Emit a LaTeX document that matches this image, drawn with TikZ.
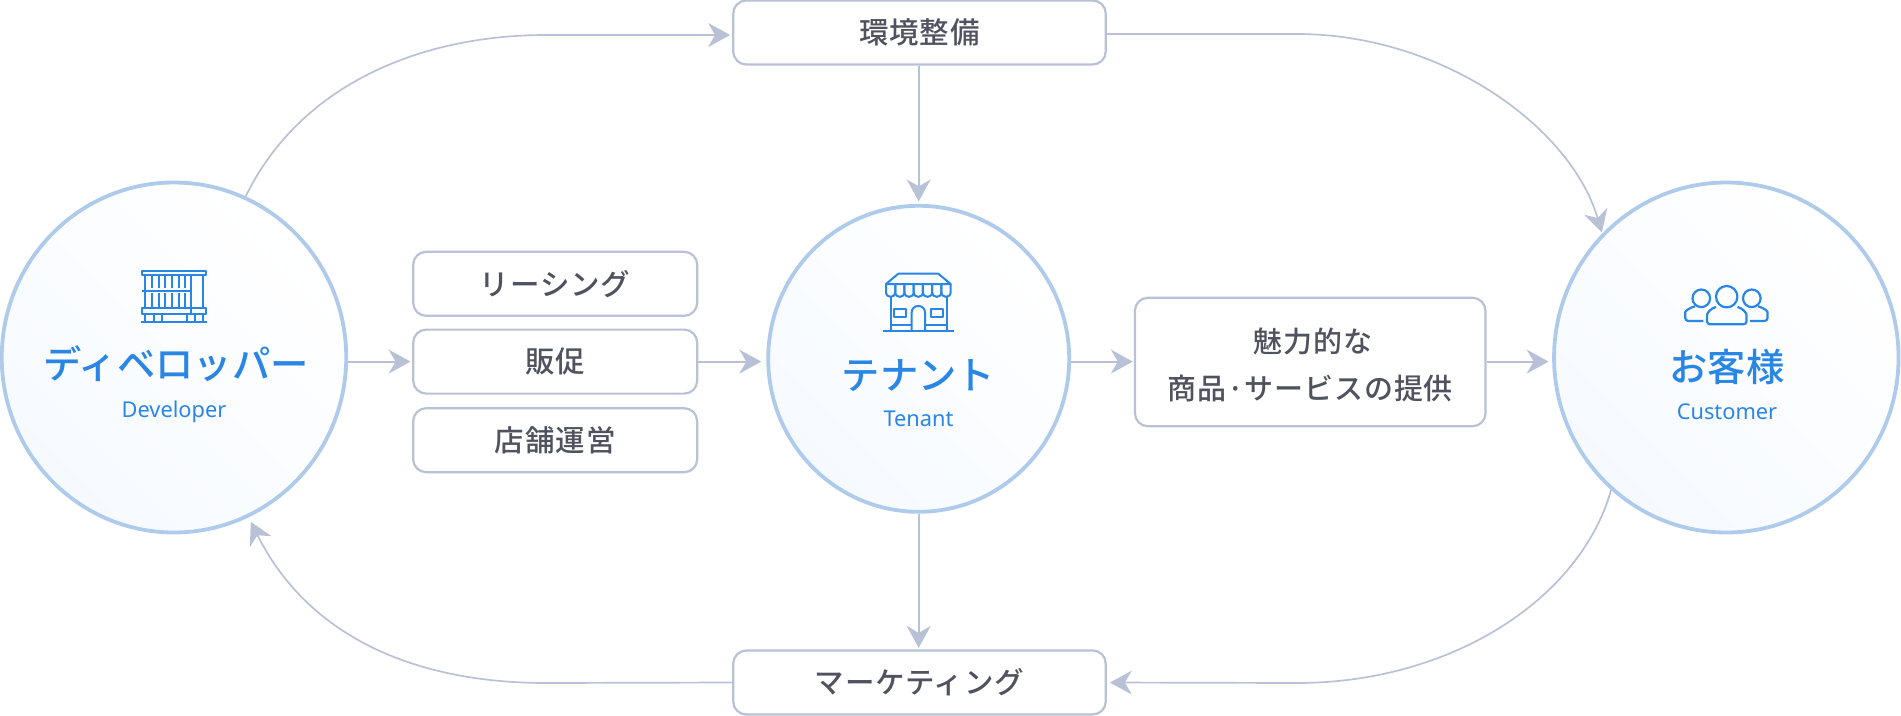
\documentclass[tikz,border=0pt]{standalone}
\usepackage{fontspec}
\usetikzlibrary{arrows.meta,calc,shapes.geometric}
\setmainfont{Noto Sans}
\newfontfamily\cjk{Noto Sans CJK JP Medium}
\newfontfamily\cjkt[LetterSpace=3]{Noto Sans CJK JP Medium}
\definecolor{cblue}{HTML}{2A86E5}
\definecolor{cring}{HTML}{AECBEC}
\definecolor{cline}{HTML}{B9C1D6}
\definecolor{ctext}{HTML}{50525F}
\definecolor{cfill}{HTML}{F6FAFF}
\newcommand{\bt}[1]{\raisebox{-1.5pt}{#1}}
\tikzset{
  party/.style 2 args={ellipse,draw=cring,line width=3.8pt,inner sep=0pt,minimum width=#1,minimum height=#2,
    top color=white,bottom color=cfill,shading angle=-45},
  box/.style={draw=cline,line width=2.2pt,rounded corners=13pt,fill=white,inner sep=0pt,
    text=ctext,font=\cjkt\fontsize{29.5}{46.5}\selectfont,align=center},
  boxtext/.style={inner sep=0pt,text=ctext,font=\cjkt\fontsize{29}{46.5}\selectfont,align=center},
  title/.style={text=cblue,inner sep=0pt,font=\cjk\fontsize{38.3}{44}\selectfont},
  sub/.style={text=cblue,inner sep=0pt,anchor=base,font=\fontsize{21.8}{26}\selectfont},
  flow/.style={draw=cline,line width=2pt,-{Stealth[length=22pt,width=24pt,inset=7pt]}},
  flowthin/.style={draw=cline,line width=1.7pt},
  flowtip/.style={flowthin,-{Stealth[length=22pt,width=24pt,inset=7pt]}},
  icon/.style={draw=cblue,line width=2pt,line join=round},
}
\begin{document}
\begin{tikzpicture}[x=1pt,y=-1pt]
\useasboundingbox (0,0) rectangle (1901,715);
% parties
\node[party={344.5pt}{350pt}] (dev) at (174,357.5) {};
\node[party={301pt}{306pt}] (ten) at (918.7,358.8) {};
\node[party={344.5pt}{350pt}] (cus) at (1726.3,357.5) {};
% boxes
\node[box,minimum width=372.5pt,minimum height=64pt] (env) at (919.5,32.5) {\bt{環境整備}};
\node[box,minimum width=372.5pt,minimum height=64pt] (mkt) at (919.5,682.5) {\bt{マーケティング}};
\node[box,minimum width=284pt,minimum height=64pt] (lease) at (555.2,283.8) {\bt{リーシング}};
\node[box,minimum width=284pt,minimum height=64pt] (promo) at (555.2,361.6) {\bt{販促}};
\node[box,minimum width=284pt,minimum height=64pt] (ops) at (555.2,440.2) {\bt{店舗運営}};
\node[box,minimum width=350.5pt,minimum height=128.5pt] (offer) at (1310.2,362) {};
\node[boxtext] (offertext) at (1310.2,365) {\hspace{6pt}魅力的な\\商品·サービスの提供};
% titles
\node[title] (devname) at (176,364) {ディベロッパー};
\node[sub] (devsub) at (174,417.5) {Developer};
\node[title] (tenname) at (918.5,376) {テナント};
\node[sub] (tensub) at (918.5,426) {Tenant};
\node[title] (cusname) at (1727,366.5) {お客様};
\node[sub] (cussub) at (1727,419.3) {Customer};
% straight connectors
\draw[flow,shorten >=1.5pt] (dev.east |- promo.west) -- (promo.west);
\draw[flow,shorten >=5pt] (promo.east) -- (ten.west |- promo.east);
\draw[flow,shorten >=1pt] (ten.east |- promo.east) -- (offer.west |- promo.east);
\draw[flow,shorten >=3.5pt] (offer.east |- promo.east) -- (cus.west |- promo.east);
\draw[flow,shorten >=2.5pt] (ten.north |- env.south) -- (ten.north);
\draw[flow,shorten >=1.5pt] (ten.south) -- (ten.south |- mkt.north);
% curved connectors
\draw[flowtip,shorten >=2pt] (dev.66) .. controls (300,85) and (420,35) .. (546,35) -- (env.west |- 0,35);
\draw[flowtip,shorten >=1pt] (env.east |- 0,34) -- (1297,34) .. controls (1440,34) and (1570,125) .. (cus.135);
\draw[flowtip,shorten >=3pt] (cus.229) .. controls (1580,600) and (1450,683) .. (1297,683) -- (mkt.east);
\draw[flowtip,shorten >=5pt] (mkt.west) -- (546,683) .. controls (420,683) and (310,640) .. (dev.-65);
% developer icon
\begin{scope}[icon]
\draw (142,270.5) rectangle (206,274.5);
\draw (145,274.5) -- (145,308) (191.3,274.5) -- (191.3,308) (203.3,274.5) -- (203.3,308);
\foreach \x in {152,158.7,165.3,172,178.7,185.3} {\draw (\x,274.5) -- (\x,288) (\x,293) -- (\x,308);}
\draw (142,290.7) -- (191.3,290.7);
\draw (142,308) rectangle (206,314.2);
\draw (191.3,308) -- (191.3,314.2);
\foreach \x in {145.3,154,162,186.7,195.3,203.3} {\draw (\x,314.2) -- (\x,322);}
\draw (141,322) -- (207,322);
\end{scope}
% tenant icon
\begin{scope}[icon]
\draw (886,284) -- (898.3,273.7) -- (938.3,273.7) -- (950.7,284) -- cycle;
\foreach \i in {0,...,6} {
  \pgfmathsetmacro{\xa}{886+\i*9.24}
  \pgfmathsetmacro{\xb}{\xa+9.24}
  \draw (\xa,284) -- (\xa,292) .. controls (\xa,298.5) and (\xb,298.5) .. (\xb,292) -- (\xb,284);
}
\draw (890.7,297) -- (890.7,330) (947.3,297) -- (947.3,330);
\draw (882.7,330.7) -- (954,330.7);
\draw (911.7,330) -- (911.7,312.5) .. controls (911.7,303.8) and (925,303.8) .. (925,312.5) -- (925,330);
\draw (894.3,309) rectangle (906,317);
\draw (931,309) rectangle (942.7,317);
\draw (890.7,325) -- (911.7,325) (925,325) -- (947.3,325);
\end{scope}
% customer icon
\begin{scope}[icon,line width=2.2pt]
\draw (1726.7,296.7) circle (10.7);
\draw (1701.3,298.3) circle (8.8);
\draw (1751.8,298.3) circle (8.8);
\draw[rounded corners=3pt] (1716,306.9) .. controls (1710.5,308.5) and (1707,313) .. (1707,318) -- (1707,324.3) -- (1746.5,324.3) -- (1746.5,318) .. controls (1746.5,313) and (1743,308.5) .. (1737.5,306.9);
\draw[rounded corners=3pt] (1703.3,321) -- (1685.3,321) -- (1685.3,315) .. controls (1685.3,311) and (1689,308) .. (1695,306.3);
\draw[rounded corners=3pt] (1750,321) -- (1767.5,321) -- (1767.5,315) .. controls (1767.5,311) and (1764,308) .. (1758,306.3);
\end{scope}
\end{tikzpicture}
\end{document}
